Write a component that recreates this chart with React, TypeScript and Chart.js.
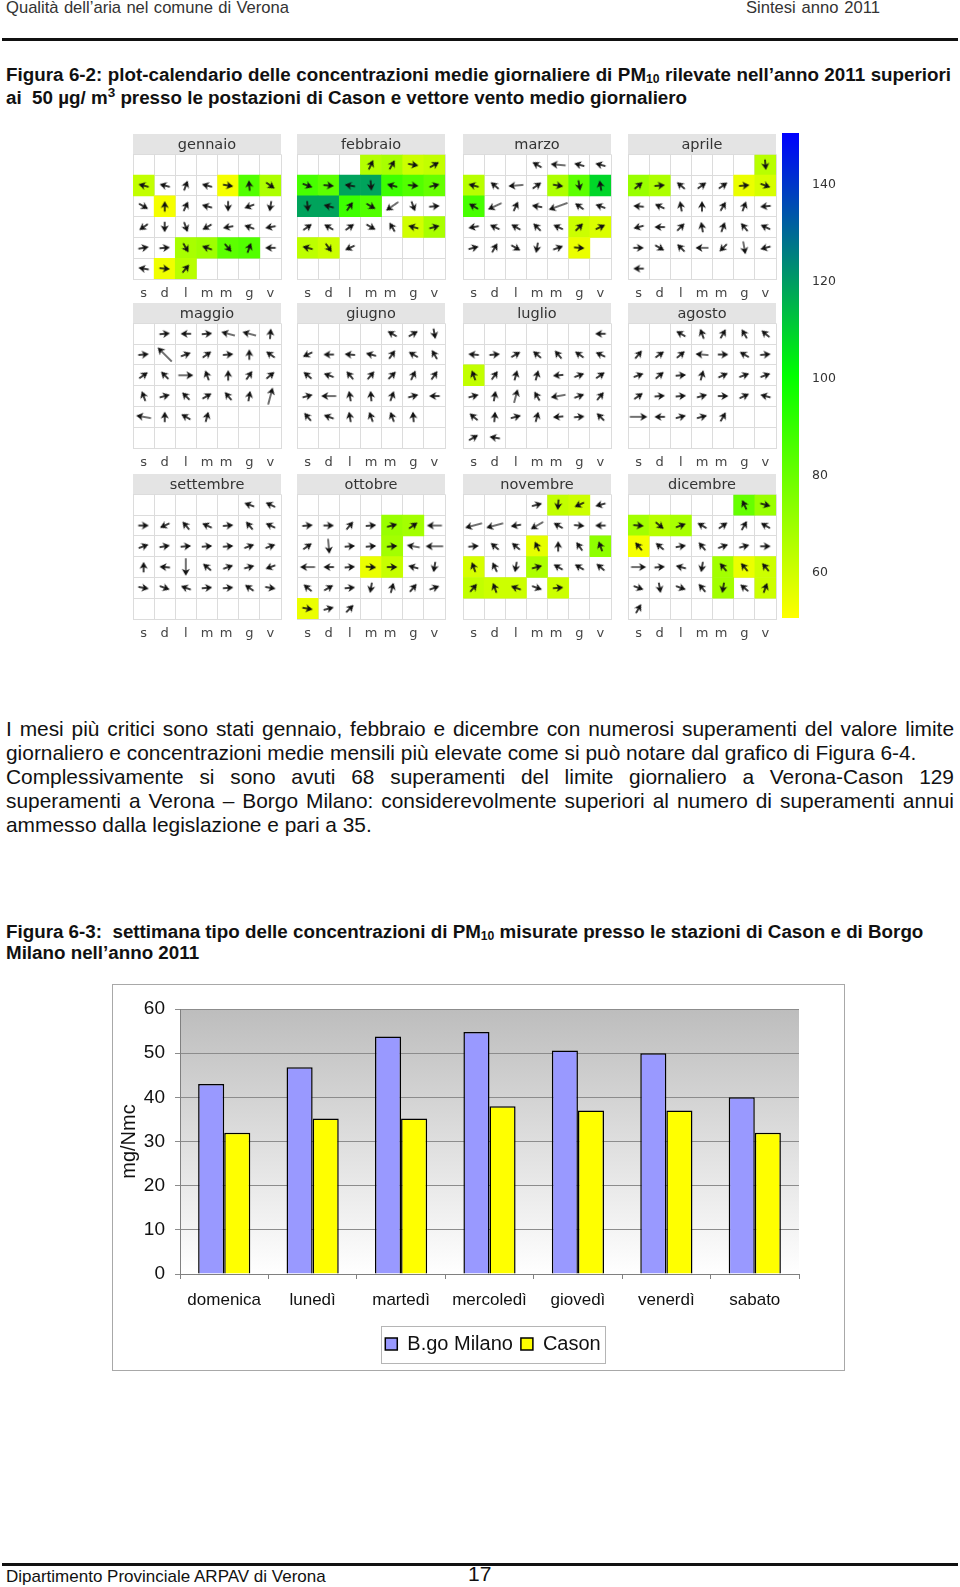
import React, { useEffect, useRef } from "react";
import { Chart, registerables } from "chart.js";

Chart.register(...registerables);

const SANS = '"Liberation Sans", Arial, sans-serif';
const PANEL_FONT = '"DejaVu Sans", sans-serif';

// ---- Bar chart data
const weekDays = ["domenica", "lunedì", "martedì", "mercoledì", "giovedì", "venerdì", "sabato"];
const borgoMilano = [43, 46.8, 53.8, 54.8, 50.6, 50, 40];
const cason = [32, 35.2, 35.2, 38, 37, 37, 32];

// ---- Calendar data
const calendarDays = ["s", "d", "l", "m", "m ", "g", "v"];
const monthNames = ["gennaio", "febbraio", "marzo", "aprile", "maggio", "giugno", "luglio", "agosto", "settembre", "ottobre", "novembre", "dicembre"];
const firstSlot = [7, 3, 3, 6, 1, 4, 6, 2, 5, 7, 3, 5];

// wind direction of each day, degrees clockwise from north
const windDirs = [
  [285,285,20,285,100,355,125, 120,0,25,285,180,250,190, 235,180,160,240,260,290,260, 80,85,150,290,140,20,270, 280,95,40],
  [25,30,100,60, 110,95,280,175,285,95,75, 175,285,35,120,235,160,85, 55,300,55,120,330,285,75, 285,145,245],
  [300,275,285,285, 285,310,265,55,100,170,350, 300,245,25,280,250,305,290, 260,295,300,315,295,45,65, 75,30,120,190,70,95],
  [175, 50,85,310,55,55,85,110, 275,295,350,0,30,20,265, 255,270,45,350,20,320,295, 90,120,315,270,225,170,255, 270],
  [85,270,85,285,285,5, 85,315,70,55,85,0,305, 55,315,90,340,0,35,50, 340,75,315,60,320,10,15, 280,0,300,15],
  [300,60,170, 245,270,275,285,35,300,330, 310,290,320,40,45,25,35, 75,270,350,355,20,75,270, 320,290,350,340,340,355],
  [270, 275,85,60,310,320,305,295, 340,35,15,15,265,70,55, 75,10,15,330,260,70,40, 310,5,75,15,265,85,315, 60,280],
  [300,340,30,330,310, 40,55,50,275,90,300,85, 70,50,85,15,65,70,70, 55,85,85,75,90,65,285, 90,270,75,75,30],
  [290,295, 90,245,320,295,85,320,295, 70,80,85,85,85,70,70, 0,275,180,310,70,75,250, 100,110,290,85,85,305,100],
  [85,90,40,85,75,55,270, 55,175,85,85,85,280,270, 270,270,85,95,90,285,190, 310,60,85,190,15,40,70, 100,75,45],
  [75,185,245,255, 255,255,260,240,300,95,270, 85,310,310,335,0,325,340, 340,335,190,75,300,300,310, 40,340,290,110,85],
  [335,105, 95,130,70,300,55,30,300, 320,310,80,320,70,75,90, 90,85,285,190,320,320,320, 110,170,110,320,190,310,20, 30],
];

// days with stronger wind (day of month -> relative speed); the others are 1
const windSpeeds: Record<number, number>[] = [
  {},
  { 16: 2 },
  { 2: 2, 7: 2, 13: 2, 16: 3 },
  { 26: 1.5, 28: 1.5 },
  { 4: 1.7, 5: 1.7, 8: 3, 16: 2, 27: 2.5, 28: 2 },
  { 19: 2 },
  { 18: 1.7, 20: 2 },
  { 9: 1.5, 27: 2.5 },
  { 19: 2.5 },
  { 7: 2, 9: 2, 13: 1.5, 14: 2.5, 15: 2 },
  { 5: 2.5, 6: 2.5, 8: 1.8 },
  { 17: 2 },
];

// daily PM10 above 50 (day of month -> value)
const pm10: Record<number, number>[] = [
  { 1: 62, 5: 52, 6: 84, 7: 66, 9: 52, 24: 67, 25: 69, 26: 82, 27: 84, 30: 53, 31: 64 },
  { 1: 65, 2: 67, 3: 60, 4: 62, 5: 86, 6: 82, 7: 118, 8: 118, 9: 88, 10: 84, 11: 80, 12: 118, 13: 118, 14: 88, 15: 84, 24: 59, 25: 67, 26: 63, 27: 60 },
  { 5: 64, 9: 66, 10: 82, 11: 108, 12: 86, 24: 60, 25: 57, 31: 54 },
  { 1: 64, 2: 70, 3: 66, 7: 54, 8: 58 },
  {},
  {},
  { 9: 62 },
  {},
  {},
  { 5: 70, 6: 68, 12: 68, 18: 54, 19: 61, 29: 54 },
  { 2: 62, 3: 60, 15: 55, 18: 72, 19: 58, 22: 66, 26: 62, 27: 60, 28: 60, 30: 60 },
  { 1: 80, 2: 70, 3: 68, 4: 64, 5: 67, 10: 52, 21: 68, 22: 54, 23: 60, 28: 68, 30: 60 },
];

const panelXs = [133, 297, 463, 628];
const panelYs = [134, 303, 474];

const scaleTicks = [60, 80, 100, 120, 140];
const scaleMin = 50.75;
const scaleMax = 150.75;

function pmColor(v: number) {
  const mix = (a: number[], b: number[], t: number) =>
    `rgb(${a.map((c, i) => Math.round(c + (b[i] - c) * t)).join(",")})`;
  if (v <= 100) return mix([255, 255, 0], [0, 255, 0], (v - 50) / 50);
  return mix([0, 255, 0], [0, 0, 255], (v - 100) / 50);
}

const arrowCache: Record<string, HTMLCanvasElement> = {};
function arrowGlyph(speed: number) {
  const key = String(speed);
  if (arrowCache[key]) return arrowCache[key];
  const c = document.createElement("canvas");
  c.width = 40;
  c.height = 40;
  const g = c.getContext("2d")!;
  const len = 6 + 4.6 * speed;
  const tip = 20 - len / 2;
  g.filter = "blur(0.5px)";
  g.fillStyle = "#111";
  g.strokeStyle = "#111";
  g.lineWidth = speed > 1 ? 1.2 : 1.6;
  g.beginPath();
  g.moveTo(20, tip + 2);
  g.lineTo(20, 20 + len / 2);
  g.stroke();
  g.beginPath();
  g.moveTo(20, tip);
  g.lineTo(24, tip + 7);
  g.lineTo(20, tip + 5);
  g.lineTo(16, tip + 7);
  g.closePath();
  g.fill();
  arrowCache[key] = c;
  return c;
}

function useChart(make: (c: HTMLCanvasElement) => Chart) {
  const ref = useRef<HTMLCanvasElement>(null);
  useEffect(() => {
    const chart = make(ref.current!);
    return () => chart.destroy();
  }, []);
  return ref;
}

const monthBand = {
  id: "monthBand",
  beforeDraw(chart: any) {
    const { ctx, chartArea } = chart;
    ctx.save();
    ctx.fillStyle = "#e4e4e4";
    ctx.fillRect(chartArea.left, 0, chartArea.right - chartArea.left, chartArea.top);
    ctx.restore();
  },
};

function MonthPanel({ m }: { m: number }) {
  const ref = useChart((canvas) => {
    const slot = (day: number) => {
      const s = firstSlot[m] + day - 1;
      return { col: s % 7, row: Math.floor(s / 7) };
    };
    const cellDays = Object.keys(pm10[m]).map(Number);
    const cells = cellDays.map((d) => {
      const { col, row } = slot(d);
      return { x: calendarDays[col], y: [row, row + 1] };
    });
    const arrows = windDirs[m].map((_, i) => {
      const { col, row } = slot(i + 1);
      return { x: calendarDays[col], y: row + 0.5 };
    });
    return new Chart(canvas, {
      type: "bar",
      plugins: [monthBand],
      data: {
        labels: calendarDays,
        datasets: [
          {
            type: "line",
            order: 1,
            data: arrows,
            showLine: false,
            clip: false,
            pointStyle: (c: any) => arrowGlyph(windSpeeds[m][c.dataIndex + 1] || 1),
            pointRotation: (c: any) => windDirs[m][c.dataIndex],
            pointRadius: 5,
          } as any,
          {
            type: "bar",
            order: 2,
            data: cells,
            backgroundColor: cellDays.map((d) => pmColor(pm10[m][d])),
            barPercentage: 1,
            categoryPercentage: 1,
          } as any,
        ],
      },
      options: {
        animation: false,
        responsive: false,
        events: [],
        layout: { autoPadding: false, padding: { left: 1, right: 1 } },
        plugins: {
          legend: { display: false },
          tooltip: { enabled: false },
          title: {
            display: true,
            text: monthNames[m],
            color: "#333",
            font: { family: PANEL_FONT, size: 14.5, weight: "normal" },
            padding: { top: 3, bottom: 0 },
          },
        },
        scales: {
          x: {
            type: "category",
            offset: true,
            afterFit: (s: any) => { s.height = 23; s.paddingLeft = 0; s.paddingRight = 0; },
            grid: { color: "#dcdcdc", offset: true, drawTicks: false },
            border: { color: "#dcdcdc" },
            ticks: { color: "#444", font: { family: PANEL_FONT, size: 13 }, padding: 7, autoSkip: false, maxRotation: 0 },
          },
          y: {
            type: "linear",
            reverse: true,
            min: 0,
            max: 6,
            afterFit: (s: any) => { s.width = 0; },
            ticks: { display: false, stepSize: 1 },
            grid: { color: "#dcdcdc", drawTicks: false },
            border: { color: "#dcdcdc" },
          },
        },
      } as any,
    });
  });
  const rowI = Math.floor(m / 4);
  const colI = m % 4;
  return (
    <canvas
      ref={ref}
      width={150}
      height={168}
      style={{ position: "absolute", left: panelXs[colI] - 1, top: panelYs[rowI], width: 150, height: 168 }}
    />
  );
}

function ColorBar() {
  const ref = useChart((canvas) =>
    new Chart(canvas, {
      type: "bar",
      data: {
        labels: [""],
        datasets: [
          {
            data: [[scaleMin, scaleMax]],
            barPercentage: 1,
            categoryPercentage: 1,
            backgroundColor: (c: any) => {
              const a = c.chart.chartArea;
              if (!a) return "#0f0";
              const g = c.chart.ctx.createLinearGradient(0, a.bottom, 0, a.top);
              g.addColorStop(0, pmColor(50));
              g.addColorStop(0.5, pmColor(100));
              g.addColorStop(1, pmColor(150));
              return g;
            },
          } as any,
        ],
      },
      options: {
        animation: false,
        responsive: false,
        events: [],
        plugins: { legend: { display: false }, tooltip: { enabled: false } },
        scales: {
          x: { display: false },
          y: {
            position: "right",
            min: scaleMin,
            max: scaleMax,
            afterBuildTicks: (s: any) => { s.ticks = scaleTicks.map((value) => ({ value })); },
            afterFit: (s: any) => { s.width = 43; s.paddingTop = 0; s.paddingBottom = 0; },
            grid: { display: false },
            border: { display: false },
            ticks: { color: "#333", font: { family: PANEL_FONT, size: 12.5 }, padding: 5 },
          },
        },
      } as any,
    })
  );
  return <canvas ref={ref} width={60} height={485} style={{ position: "absolute", left: 782, top: 133, width: 60, height: 485 }} />;
}

const plotBackground = {
  id: "plotBackground",
  beforeDraw(chart: any) {
    const { ctx, chartArea: a } = chart;
    const g = ctx.createLinearGradient(0, a.top, 0, a.bottom);
    g.addColorStop(0, "#bdbdbd");
    g.addColorStop(1, "#ffffff");
    ctx.save();
    ctx.fillStyle = g;
    ctx.fillRect(a.left, a.top, a.right - a.left, a.bottom - a.top);
    ctx.restore();
  },
};

const legendFrame = {
  id: "legendFrame",
  afterDraw(chart: any) {
    const l = chart.legend;
    const boxes = l.legendHitBoxes;
    if (!boxes || !boxes.length) return;
    const last = boxes[boxes.length - 1];
    const left = boxes[0].left - 4;
    const right = last.left + last.width + 5;
    const { ctx } = chart;
    ctx.save();
    ctx.strokeStyle = "#b5b5b5";
    ctx.lineWidth = 1;
    ctx.strokeRect(Math.round(left) + 0.5, Math.round(l.top) + 0.5, Math.round(right - left), Math.round(l.height) - 1);
    ctx.restore();
  },
};

function WeekChart() {
  const ref = useChart((canvas) =>
    new Chart(canvas, {
      type: "bar",
      plugins: [plotBackground, legendFrame],
      data: {
        labels: weekDays,
        datasets: [
          { label: "B.go Milano", data: borgoMilano, backgroundColor: "#9999ff", borderColor: "#000", borderWidth: 1.5 },
          { label: "Cason", data: cason, backgroundColor: "#ffff00", borderColor: "#000", borderWidth: 1.5 },
        ],
      },
      options: {
        animation: false,
        responsive: false,
        events: [],
        layout: { padding: { left: 0, right: 0, top: 25, bottom: 7 } },
        datasets: { bar: { barPercentage: 1, categoryPercentage: 0.59 } },
        plugins: {
          tooltip: { enabled: false },
          legend: {
            position: "bottom",
            labels: {
              color: "#111",
              font: { family: SANS, size: 20 },
              boxWidth: 12,
              boxHeight: 12,
              padding: 8,
            },
          },
        },
        scales: {
          x: {
            afterFit: (s: any) => { s.height = 52; s.paddingLeft = 0; s.paddingRight = 75; },
            grid: { drawOnChartArea: false, color: "#808080", offset: true, tickLength: 5 },
            border: { color: "#808080" },
            ticks: { color: "#111", font: { family: SANS, size: 17 }, padding: 11, maxRotation: 0, autoSkip: false },
          },
          y: {
            min: 0,
            max: 60,
            afterFit: (s: any) => { s.width = 68; },
            title: { display: true, text: "mg/Nmc", color: "#111", font: { family: SANS, size: 20 }, padding: { top: 5, bottom: 0 } },
            grid: { color: "#8c8c8c", tickLength: 5 },
            border: { color: "#808080" },
            ticks: { color: "#111", font: { family: SANS, size: 19 }, stepSize: 10, padding: 10 },
          },
        },
      } as any,
    })
  );
  return <canvas ref={ref} width={762} height={387} style={{ position: "absolute", left: 112, top: 984, width: 762, height: 387 }} />;
}

function Line({ x, y, w, size, bold, color, children, lh }: any) {
  return (
    <div
      style={{
        position: "absolute",
        left: x,
        top: y,
        width: w,
        fontFamily: SANS,
        fontSize: size,
        fontWeight: bold ? "bold" : "normal",
        color: color || "#111",
        lineHeight: `${lh || 24}px`,
        whiteSpace: "nowrap",
        textAlign: w ? "justify" : "left",
        textAlignLast: w ? "justify" : "left",
      } as any}
    >
      {children}
    </div>
  );
}

const subStyle: any = { fontSize: "0.65em", verticalAlign: "-0.15em", lineHeight: 0 };
const supStyle: any = { fontSize: "0.72em", verticalAlign: "0.55em", lineHeight: 0 };

export default function App() {
  return (
    <div style={{ position: "absolute", left: 0, top: 0, width: 960, height: 1587, overflow: "hidden", background: "#fff" }}>
      <Line x={6} y={-4} w={283} size={16.6} color="#333">Qualità dell’aria nel comune di Verona</Line>
      <Line x={746} y={-4} w={134} size={16.6} color="#333">Sintesi anno 2011</Line>
      <div style={{ position: "absolute", left: 2, top: 38, width: 956, height: 3, background: "#111" }} />

      <Line x={6} y={63} w={945} size={18.8} bold>
        Figura 6-2: plot-calendario delle concentrazioni medie giornaliere di PM<span style={subStyle}>10</span> rilevate nell’anno 2011 superiori
      </Line>
      <Line x={6} y={86} size={18.8} bold>
        ai&nbsp; 50 µg/ m<span style={supStyle}>3</span> presso le postazioni di Cason e vettore vento medio giornaliero
      </Line>

      {monthNames.map((_, m) => <MonthPanel key={m} m={m} />)}
      <ColorBar />

      <Line x={6} y={717} w={948} size={20.9}>I mesi più critici sono stati gennaio, febbraio e dicembre con numerosi superamenti del valore limite</Line>
      <Line x={6} y={741} size={20.9}>giornaliero e concentrazioni medie mensili più elevate come si può notare dal grafico di Figura 6-4.</Line>
      <Line x={6} y={765} w={948} size={20.9}>Complessivamente si sono avuti 68 superamenti del limite giornaliero a Verona-Cason 129</Line>
      <Line x={6} y={789} w={948} size={20.9}>superamenti a Verona – Borgo Milano: considerevolmente superiori al numero di superamenti annui</Line>
      <Line x={6} y={813} size={20.9}>ammesso dalla legislazione e pari a 35.</Line>

      <Line x={6} y={920} size={18.8} bold>
        Figura 6-3:&nbsp; settimana tipo delle concentrazioni di PM<span style={subStyle}>10</span> misurate presso le stazioni di Cason e di Borgo
      </Line>
      <Line x={6} y={941} size={18.8} bold>Milano nell’anno 2011</Line>

      <div style={{ position: "absolute", left: 112, top: 984, width: 733, height: 387, border: "1px solid #a8a8a8", boxSizing: "border-box" }} />
      <WeekChart />

      <div style={{ position: "absolute", left: 2, top: 1563, width: 956, height: 3, background: "#111" }} />
      <Line x={6} y={1565} size={17} color="#111">Dipartimento Provinciale ARPAV di Verona</Line>
      <Line x={468} y={1562} size={21} color="#111">17</Line>
    </div>
  );
}
